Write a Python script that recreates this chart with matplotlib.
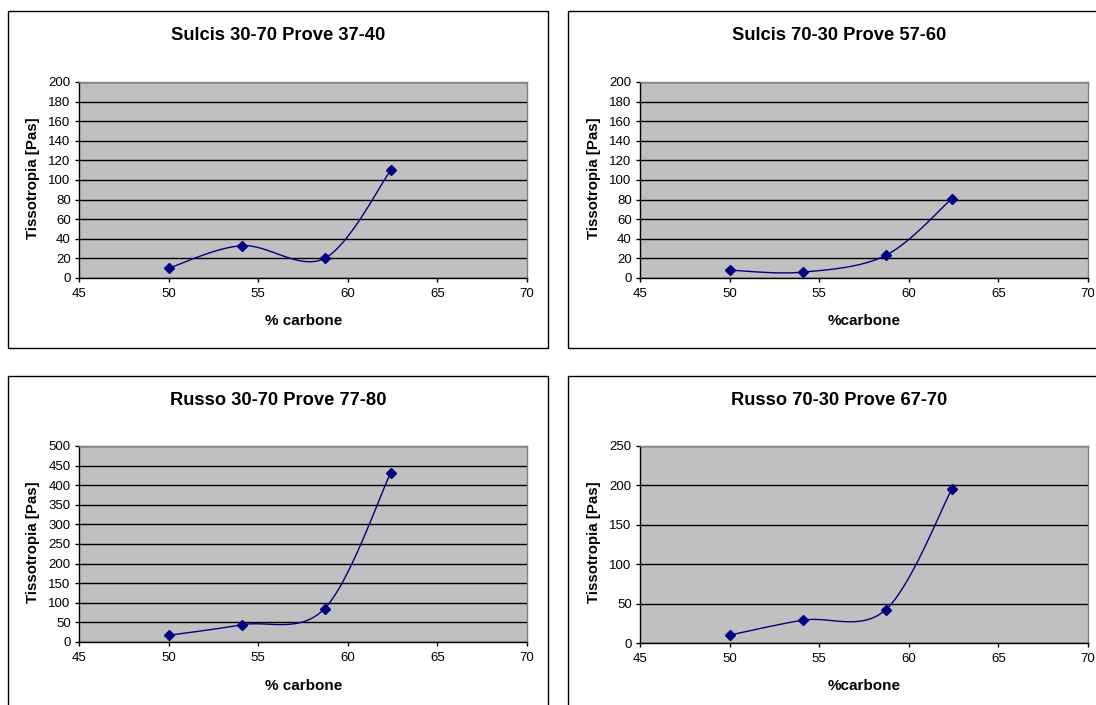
import numpy as np
import matplotlib
matplotlib.use("Agg")
import matplotlib.pyplot as plt
from matplotlib.patches import Rectangle

plt.rcParams['font.family'] = ['Liberation Sans', 'DejaVu Sans']

# ---- data ----
carbon = [50.0, 54.1, 58.7, 62.4]
titles = ["Sulcis 30-70 Prove 37-40", "Sulcis 70-30 Prove 57-60",
          "Russo 30-70 Prove 77-80", "Russo 70-30 Prove 67-70"]
sulcis_30_70 = [10, 33, 20, 110]
sulcis_70_30 = [8, 6, 23, 81]
russo_30_70 = [17, 44, 85, 432]
russo_70_30 = [10, 29, 42, 195]
series = [sulcis_30_70, sulcis_70_30, russo_30_70, russo_70_30]
xlabels = ["% carbone", "%carbone", "% carbone", "%carbone"]
ylabel = "Tissotropia [Pas]"
yranges = [(0, 200, 20), (0, 200, 20), (0, 500, 50), (0, 250, 50)]
xticks = [45, 50, 55, 60, 65, 70]

W, H = 1096, 705
fig = plt.figure(figsize=(W / 100, H / 100), dpi=100)


def fx(px):
    return px / W


def fy(py):
    return 1 - py / H


def smooth(x, y, n=40):
    # Excel-style smoothed line (Catmull-Rom / Bezier, tension 1/6)
    P = np.column_stack([x, y]).astype(float)
    ext = np.vstack([P[0], P, P[-1]])
    out = []
    t = np.linspace(0, 1, n)[:, None]
    for i in range(len(P) - 1):
        p0, p1, p2, p3 = ext[i], ext[i + 1], ext[i + 2], ext[i + 3]
        c1 = p1 + (p2 - p0) / 6
        c2 = p2 - (p3 - p1) / 6
        seg = ((1 - t) ** 3) * p1 + 3 * ((1 - t) ** 2) * t * c1 + 3 * (1 - t) * t ** 2 * c2 + t ** 3 * p2
        out.append(seg)
    out = np.vstack(out)
    return out[:, 0], out[:, 1]


# panel layout in pixels: frame (l, t, r, b), plot area (l, t, r, b)
frames = [(8, 11, 548, 348), (568, 11, 1110, 348),
          (8, 376, 548, 720), (568, 376, 1110, 720)]
areas = [(79, 82, 527, 278), (640, 82, 1088, 278),
         (79, 446, 527, 642), (640, 446, 1088, 643)]
title_y = [35, 35, 400, 400]
xlabel_y = [321, 321, 686, 686]

for k in range(4):
    fl, ft, fr, fb = frames[k]
    fig.add_artist(Rectangle((fx(fl), fy(fb)), fx(fr - fl), (fb - ft) / H,
                             transform=fig.transFigure, fill=False,
                             edgecolor='black', linewidth=1.0))
    al, at, ar, ab = areas[k]
    ax = fig.add_axes([fx(al), fy(ab), fx(ar - al), (ab - at) / H])
    ax.set_facecolor('#C0C0C0')
    y0, y1, ys = yranges[k]
    ax.set_xlim(45, 70)
    ax.set_ylim(y0, y1)
    ax.set_xticks(xticks)
    ax.set_yticks(np.arange(y0, y1 + ys, ys))
    ax.yaxis.grid(True, color='black', linewidth=1.0)
    ax.set_axisbelow(True)
    for s in ['top', 'right']:
        ax.spines[s].set_color('#808080')
        ax.spines[s].set_linewidth(1.0)
    for s in ['left', 'bottom']:
        ax.spines[s].set_color('black')
        ax.spines[s].set_linewidth(1.0)
    ax.tick_params(direction='out', length=3, width=1, labelsize=9.5,
                   color='black', pad=3)
    ax.tick_params(axis='x', pad=4)
    sx, sy = smooth(carbon, series[k])
    ax.plot(sx, sy, color='#000080', linewidth=1.0, zorder=3)
    ax.plot(carbon, series[k], linestyle='none', marker='D', markersize=5,
            color='#000080', zorder=4, clip_on=False)
    fig.text(fx(278 if k % 2 == 0 else 839), fy(title_y[k]), titles[k],
             ha='center', va='center', fontsize=13.2, fontweight='bold')
    fig.text(fx(304 if k % 2 == 0 else 864), fy(xlabel_y[k]), xlabels[k],
             ha='center', va='center', fontsize=11, fontweight='bold')
    fig.text(fx(33 if k % 2 == 0 else 594), fy((at + ab) / 2 - 2), ylabel,
             ha='center', va='center', rotation=90, fontsize=10.8,
             fontweight='bold')

fig.savefig("out.png", dpi=100)
